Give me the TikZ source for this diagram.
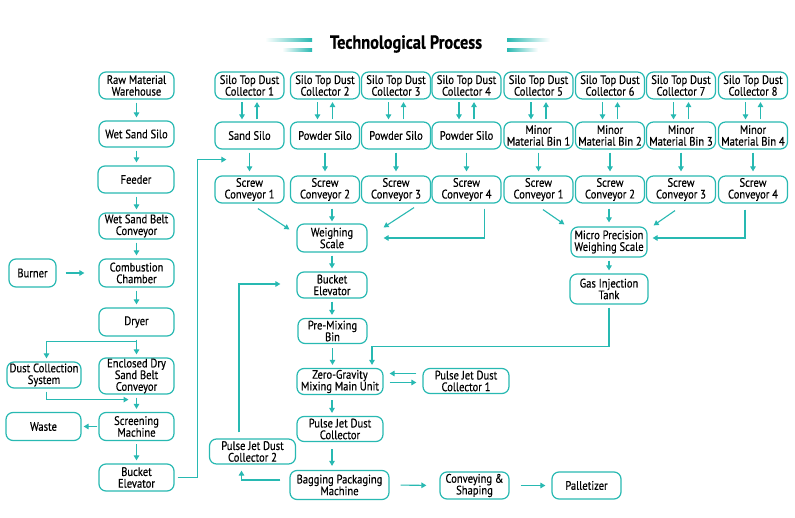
\documentclass[tikz,border=0pt]{standalone}
\usepackage{fontspec}
\setmainfont[FakeStretch=0.86,FakeBold=0.4]{PT Sans}
\usetikzlibrary{arrows.meta,calc}
\definecolor{tealc}{RGB}{40,185,178}
\begin{document}
\begin{tikzpicture}[x=1pt,y=-1pt,
  font=\fontsize{12.3}{11.7}\selectfont,
  box/.style={draw=tealc, line width=1.2pt, rounded corners=7pt, align=center, inner sep=0pt, fill=white},
  arr/.style={draw=tealc, line width=1.1pt, -{Triangle[length=5pt,width=5.5pt]}, shorten <=3pt, shorten >=3pt},
  ]
\fill[white] (0,0) rectangle (795,518);
\useasboundingbox (0,0) rectangle (795,518);

% title
\shade[left color=white, right color=tealc] (265,39) rectangle (312,42);
\shade[left color=white, right color=tealc] (282,49) rectangle (312,52);
\shade[left color=tealc, right color=white] (507,39) rectangle (550,42);
\shade[left color=tealc, right color=white] (507,49) rectangle (538,52);
\node[font=\bfseries\fontsize{19}{19}\selectfont] (title) at (406,44) {Technological Process};

% left column
\node[box, minimum width=75pt, minimum height=27pt] (raw) at (136.5,85.5) {Raw Material\\Warehouse};
\node[box, minimum width=75pt, minimum height=26pt] (wetsilo) at (136.5,134) {Wet Sand Silo};
\node[box, minimum width=76pt, minimum height=27pt] (feeder) at (136,179.5) {Feeder};
\node[box, minimum width=75pt, minimum height=26pt] (belt) at (136.5,226) {Wet Sand Belt\\Conveyor};
\node[box, minimum width=75pt, minimum height=28pt] (comb) at (136.5,273) {Combustion\\Chamber};
\node[box, minimum width=47pt, minimum height=28pt] (burner) at (32.5,273) {Burner};
\node[box, minimum width=75pt, minimum height=28pt] (dryer) at (136.5,322) {Dryer};
\node[box, minimum width=75pt, minimum height=36pt] (encl) at (136.5,376) {Enclosed Dry\\Sand Belt\\Conveyor};
\node[box, minimum width=74pt, minimum height=26pt] (dustsys) at (44,375) {Dust Collection\\System};
\node[box, minimum width=75pt, minimum height=28pt] (screen) at (136.5,426.5) {Screening\\Machine};
\node[box, minimum width=75pt, minimum height=28pt] (waste) at (43.5,426.5) {Waste};
\node[box, minimum width=75pt, minimum height=27pt] (bucketL) at (136.5,477.5) {Bucket\\Elevator};

% top columns
\node[box, minimum width=69pt, minimum height=27pt] (dc1) at (249.5,85.5) {Silo Top Dust\\Collector 1};
\node[box, minimum width=69pt, minimum height=27pt] (dc2) at (325,85.5) {Silo Top Dust\\Collector 2};
\node[box, minimum width=69pt, minimum height=27pt] (dc3) at (396,85.5) {Silo Top Dust\\Collector 3};
\node[box, minimum width=69pt, minimum height=27pt] (dc4) at (466.5,85.5) {Silo Top Dust\\Collector 4};
\node[box, minimum width=69pt, minimum height=27pt] (dc5) at (538.5,85.5) {Silo Top Dust\\Collector 5};
\node[box, minimum width=69pt, minimum height=27pt] (dc6) at (610,85.5) {Silo Top Dust\\Collector 6};
\node[box, minimum width=69pt, minimum height=27pt] (dc7) at (681,85.5) {Silo Top Dust\\Collector 7};
\node[box, minimum width=69pt, minimum height=27pt] (dc8) at (753,85.5) {Silo Top Dust\\Collector 8};

\node[box, minimum width=69pt, minimum height=27pt] (silo1) at (249.5,135.5) {Sand Silo};
\node[box, minimum width=69pt, minimum height=27pt] (silo2) at (325,135.5) {Powder Silo};
\node[box, minimum width=69pt, minimum height=27pt] (silo3) at (396,135.5) {Powder Silo};
\node[box, minimum width=69pt, minimum height=27pt] (silo4) at (466.5,135.5) {Powder Silo};
\node[box, minimum width=69pt, minimum height=27pt] (silo5) at (538.5,135.5) {Minor\\Material Bin 1};
\node[box, minimum width=69pt, minimum height=27pt] (silo6) at (610,135.5) {Minor\\Material Bin 2};
\node[box, minimum width=69pt, minimum height=27pt] (silo7) at (681,135.5) {Minor\\Material Bin 3};
\node[box, minimum width=69pt, minimum height=27pt] (silo8) at (753,135.5) {Minor\\Material Bin 4};

\node[box, minimum width=69pt, minimum height=27pt] (screw1) at (249.5,189.5) {Screw\\Conveyor 1};
\node[box, minimum width=69pt, minimum height=27pt] (screw2) at (325,189.5) {Screw\\Conveyor 2};
\node[box, minimum width=69pt, minimum height=27pt] (screw3) at (396,189.5) {Screw\\Conveyor 3};
\node[box, minimum width=69pt, minimum height=27pt] (screw4) at (466.5,189.5) {Screw\\Conveyor 4};
\node[box, minimum width=69pt, minimum height=27pt] (screw5) at (538.5,189.5) {Screw\\Conveyor 1};
\node[box, minimum width=69pt, minimum height=27pt] (screw6) at (610,189.5) {Screw\\Conveyor 2};
\node[box, minimum width=69pt, minimum height=27pt] (screw7) at (681,189.5) {Screw\\Conveyor 3};
\node[box, minimum width=69pt, minimum height=27pt] (screw8) at (753,189.5) {Screw\\Conveyor 4};

% middle
\node[box, minimum width=70pt, minimum height=28pt] (weigh) at (332,238) {Weighing\\Scale};
\node[box, minimum width=76pt, minimum height=30pt] (micro) at (609,242) {Micro Precision\\Weighing Scale};
\node[box, minimum width=78pt, minimum height=30pt] (gas) at (609,289) {Gas Injection\\Tank};
\node[box, minimum width=70pt, minimum height=26pt] (bucketM) at (332,285) {Bucket\\Elevator};
\node[box, minimum width=69pt, minimum height=25pt] (premix) at (332.5,331) {Pre-Mixing\\Bin};
\node[box, minimum width=86pt, minimum height=26pt] (zerog) at (340,381.5) {Zero-Gravity\\Mixing Main Unit};
\node[box, minimum width=86pt, minimum height=25pt] (pj1) at (466,381) {Pulse Jet Dust\\Collector 1};
\node[box, minimum width=86pt, minimum height=25pt] (pjdc) at (340,429) {Pulse Jet Dust\\Collector};
\node[box, minimum width=99pt, minimum height=29pt] (bagging) at (339.5,485) {Bagging Packaging\\Machine};
\node[box, minimum width=86pt, minimum height=25pt] (pj2) at (252.5,451.5) {Pulse Jet Dust\\Collector 2};
\node[box, minimum width=69pt, minimum height=27pt] (conv) at (474.5,485.5) {Conveying \&\\Shaping};
\node[box, minimum width=69pt, minimum height=27pt] (pallet) at (586.5,485.5) {Palletizer};

% left column arrows
\draw[arr] (raw.south) -- (wetsilo.north);
\draw[arr] (wetsilo.south) -- (feeder.north -| wetsilo.south);
\draw[arr] (feeder.south -| belt.north) -- (belt.north);
\draw[arr] (belt.south) -- (comb.north);
\draw[arr] (comb.south) -- (dryer.north);
\draw[arr, shorten <=9pt, shorten >=14pt] (burner.east) -- (comb.west);
\draw[arr] (dryer.south) -- (encl.north);
\coordinate (split) at ($(dryer.south)+(0,5)$);
\draw[arr, shorten <=0pt] (split) -| ($(dustsys.north)+(2.5,0)$);
\draw[arr] (encl.south) -- (screen.north);
\coordinate (jn) at ($(encl.south)+(-8,5)$);
\draw[arr, shorten >=0pt] ($(dustsys.south)+(2.5,0)$) |- (jn);
\draw[arr, shorten <=1pt, shorten >=2pt] (screen.west) -- (waste.east);
\draw[arr] (screen.south) -- (bucketL.north);
\coordinate (feedin) at ($(silo1.south west)+(12,10)$);
\draw[arr, shorten >=0pt] (bucketL.east) -- ++(23,0) |- (feedin);

% column arrows
\foreach \i in {1,...,8}{
  \draw[arr, shorten <=2.5pt, shorten >=2pt] ($(dc\i.south)+(-7.5,0)$) -- ($(silo\i.north)+(-7.5,0)$);
  \draw[arr, shorten <=2pt, shorten >=2.5pt] ($(silo\i.north)+(7.5,0)$) -- ($(dc\i.south)+(7.5,0)$);
  \draw[arr, shorten <=3pt, shorten >=4pt] (silo\i.south) -- (screw\i.north);
}

% into weighing scale
\draw[arr, shorten <=0pt, shorten >=0pt] ($(screw1.south)+(8.5,5)$) -- ($(weigh.north west)+(-7,6)$);
\draw[arr, shorten <=5pt, shorten >=2pt] (screw2.south -| weigh.north) -- (weigh.north);
\draw[arr, shorten <=0pt, shorten >=0pt] ($(screw3.south)+(18,4)$) -- ($(weigh.north east)+(16,4)$);
\draw[arr, shorten <=0pt, shorten >=0pt] ($(screw4.south)+(18,5)$) |- ($(weigh.east)+(16,0)$);

% into micro precision scale
\draw[arr, shorten <=0pt, shorten >=0pt] ($(screw5.south)+(4.5,6)$) -- ($(micro.north west)+(-6,-2)$);
\draw[arr, shorten <=5pt, shorten >=4pt] (screw6.south -| micro.north) -- (micro.north);
\draw[arr, shorten <=0pt, shorten >=0pt] ($(screw7.south)+(-6,7)$) -- ($(micro.north east)+(6,-1)$);
\draw[arr, shorten <=0pt, shorten >=0pt] ($(screw8.south)+(-8,6)$) |- ($(micro.east)+(5,-4)$);

% middle flow
\draw[arr] (micro.south) -- (gas.north);
\draw[arr] (gas.south) -- ++(0,42) -| ($(zerog.north)+(32,0)$);
\draw[arr] (weigh.south) -- (bucketM.north);
\draw[arr] (bucketM.south) -- (premix.north -| bucketM.south);
\draw[arr, shorten <=4pt] (premix.south) -- (premix.south |- zerog.north);
\draw[arr, shorten <=6pt, shorten >=6pt] ($(pj1.west)+(0,-7.5)$) -- ($(zerog.east)+(0,-8)$);
\draw[arr, shorten <=6pt, shorten >=6pt] ($(zerog.east)+(0,1)$) -- ($(pj1.west)+(0,1.5)$);
\draw[arr, shorten <=5pt] (zerog.south -| bucketM.south) -- (pjdc.north -| bucketM.south);
\draw[arr, shorten <=7pt, shorten >=4pt] (pjdc.south -| bucketM.south) -- (bagging.north -| bucketM.south);
\draw[arr, shorten <=9pt, shorten >=6pt] ($(bagging.west)+(0,-5)$) -| ($(pj2.south)+(-11,0)$);
\coordinate (bmin) at ($(bucketM.west)+(-16,-1)$);
\draw[arr, shorten <=6pt, shorten >=0pt] ($(pj2.north)+(-13.5,0)$) |- (bmin);
\draw[arr, shorten <=11pt, shorten >=13pt] (bagging.east) -- (conv.west);
\draw[arr, shorten <=11pt, shorten >=6pt] (conv.east) -- (pallet.west);
\end{tikzpicture}
\end{document}
